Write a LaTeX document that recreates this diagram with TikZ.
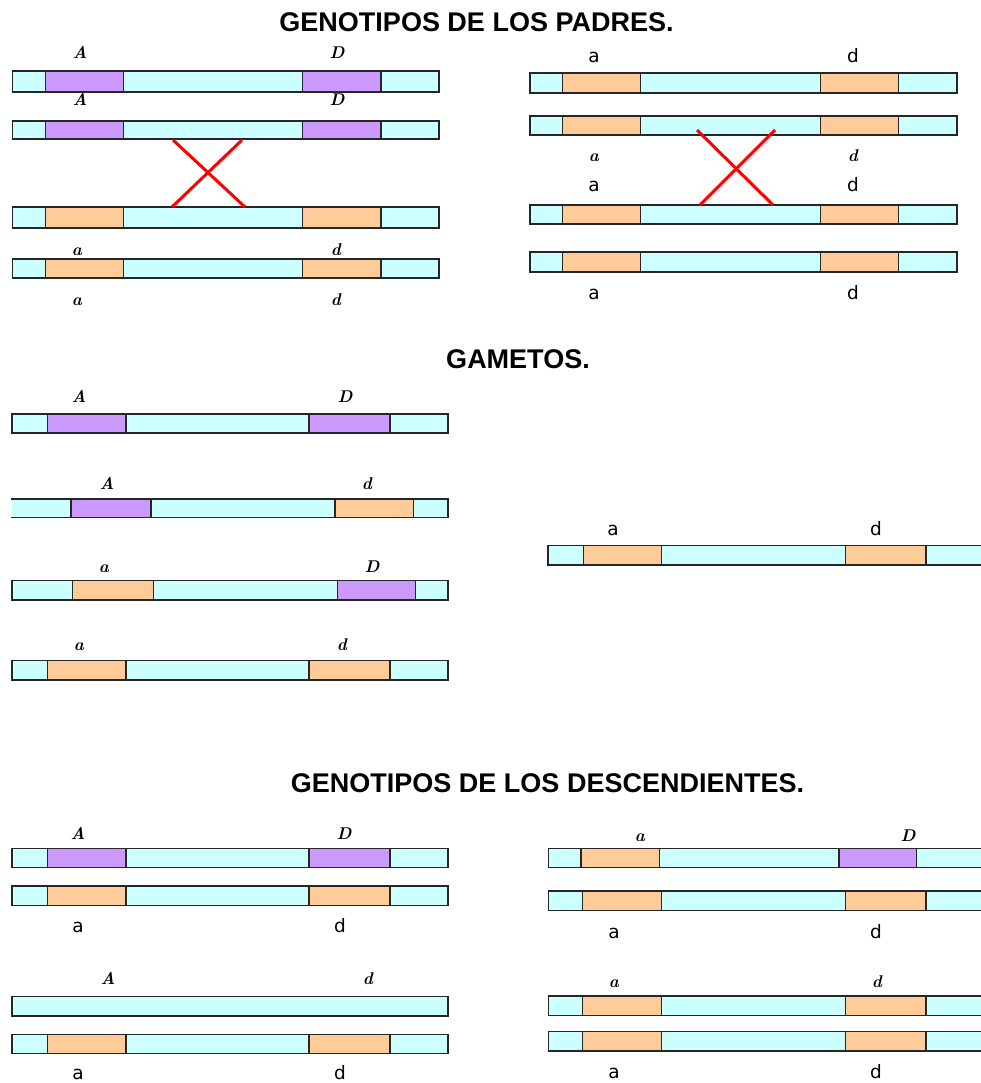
\documentclass[tikz,border=0pt]{standalone}
\usepackage{fontspec}
\newfontfamily\headfont{Liberation Sans}
\newfontfamily\plainfont{DejaVu Sans}
\definecolor{barfill}{HTML}{CCFFFF}
\definecolor{domfill}{HTML}{CC99FF}
\definecolor{recfill}{HTML}{FFCC99}
\definecolor{edge}{HTML}{262626}
\tikzset{
  chrbar/.style={draw=edge, line width=1.5pt, fill=barfill},
  dom/.style={draw=edge, line width=1.5pt, fill=domfill},
  rec/.style={draw=edge, line width=1.5pt, fill=recfill},
  heading/.style={inner sep=0pt, font=\headfont\bfseries\fontsize{27}{27}\selectfont},
  itl/.style={inner sep=0pt, anchor=base, font=\bfseries\itshape\fontsize{17}{17}\selectfont},
  pln/.style={inner sep=0pt, anchor=base, font=\plainfont\fontsize{18.5}{18.5}\selectfont},
  cross/.style={draw=red, line width=3pt}
}
% \chrom{left}{right}{top}{bottom}: plain chromosome bar
\newcommand{\chrom}[4]{\draw[chrbar] (#1,#3) rectangle (#2,#4);}
% \locus{style}{left}{right}{top}{bottom}: coloured gene segment
\newcommand{\locus}[5]{\draw[#1] (#2,#4) rectangle (#3,#5);}
% \chromo{left}{right}{top}{bottom}{s1}{e1}{s2}{e2}{style1}{style2}
\newcommand{\chromo}[9]{%
  \chrom{#1}{#2}{#3}{#4}%
  \locus{#9}{#5}{#6}{#3}{#4}%
  \def\chrLx{#7}\def\chrRx{#8}\def\chrTy{#3}\def\chrBy{#4}%
  \chrSecond}
\newcommand{\chrSecond}[1]{\locus{#1}{\chrLx}{\chrRx}{\chrTy}{\chrBy}}
\begin{document}
\begin{tikzpicture}[x=1pt,y=-1pt]
\useasboundingbox (0,0) rectangle (980,1083);
\fill[white] (0,0) rectangle (980,1083);

% ---------- headings ----------
\node[heading] (h1) at (476.5,22) {GENOTIPOS DE LOS PADRES.};
\node[heading] (h2) at (518,359) {GAMETOS.};
\node[heading] (h3) at (547.5,783) {GENOTIPOS DE LOS DESCENDIENTES.};

% ---------- parent 1 ----------
\chromo{12.3}{439}{71}{92}{45.7}{123.3}{302.7}{381}{dom}{dom}
\chromo{12.3}{439}{121}{139}{45.7}{123.3}{302.7}{381}{dom}{dom}
\chromo{12.3}{439}{207}{228}{45.7}{123.3}{302.7}{381}{rec}{rec}
\chromo{12.3}{439}{259}{278}{45.7}{123.3}{302.7}{381}{rec}{rec}
\coordinate (xa1) at (173,140); \coordinate (xa2) at (245,207);
\coordinate (xb1) at (242,140); \coordinate (xb2) at (172,207);
\draw[cross] (xa1) -- (xa2);
\draw[cross] (xb1) -- (xb2);

\node[itl] (p1A1) at (80,59) {A};
\node[itl] (p1D1) at (337,59) {D};
\node[itl] (p1A2) at (80,106) {A};
\node[itl] (p1D2) at (337,106) {D};
\node[itl] (p1a3) at (77,255) {a};
\node[itl] (p1d3) at (336,255) {d};
\node[itl] (p1a4) at (77,305) {a};
\node[itl] (p1d4) at (336,305) {d};

% ---------- parent 2 ----------
\chromo{530}{957}{73}{93}{562.3}{640.7}{820.7}{898.3}{rec}{rec}
\chromo{530}{957}{116}{135}{562.3}{640.7}{820.7}{898.3}{rec}{rec}
\chromo{530}{957}{205}{224}{562.3}{640.7}{820.7}{898.3}{rec}{rec}
\chromo{530}{957}{252}{272}{562.3}{640.7}{820.7}{898.3}{rec}{rec}
\coordinate (ya1) at (697,130); \coordinate (ya2) at (773,205);
\coordinate (yb1) at (775,130); \coordinate (yb2) at (700,205);
\draw[cross] (ya1) -- (ya2);
\draw[cross] (yb1) -- (yb2);

\node[pln] (p2a1) at (594,63) {a};
\node[pln] (p2d1) at (853,63) {d};
\node[itl] (p2a2) at (594,162) {a};
\node[itl] (p2d2) at (853,162) {d};
\node[pln] (p2a3) at (594,192) {a};
\node[pln] (p2d3) at (853,192) {d};
\node[pln] (p2a4) at (594,299) {a};
\node[pln] (p2d4) at (853,299) {d};

% ---------- gametes ----------
\chromo{12}{448}{414}{433}{47.7}{126}{309}{390}{dom}{dom}
% second gamete: open at its left end
\fill[barfill] (12,499) rectangle (448,517.7);
\draw[edge, line width=1.5pt] (11,499) -- (448,499) -- (448,517.7) -- (11,517.7);
\locus{dom}{71}{151}{499}{517.7}
\locus{rec}{335}{413.3}{499}{517.7}
\chromo{12}{448}{580.7}{600}{72.7}{153.7}{337.3}{415.7}{rec}{dom}
\chromo{12}{448}{660.7}{680}{47.7}{126}{309}{390}{rec}{rec}

\node[itl] (gA1) at (79,402) {A};
\node[itl] (gD1) at (345,402) {D};
\node[itl] (gA2) at (107,489) {A};
\node[itl] (gd2) at (367,489) {d};
\node[itl] (ga3) at (104,572) {a};
\node[itl] (gD3) at (372,572) {D};
\node[itl] (ga4) at (79,650) {a};
\node[itl] (gd4) at (342,650) {d};

\chromo{548}{992}{545.7}{565}{583.3}{661.7}{845.7}{926}{rec}{rec}
\node[pln] (gra) at (613,535) {a};
\node[pln] (grd) at (876,535) {d};

% ---------- offspring, left ----------
\chromo{12}{448}{848.3}{867.7}{47.7}{126}{309}{390}{dom}{dom}
\chromo{12}{448}{886}{905.3}{47.7}{126}{309}{390}{rec}{rec}
\chrom{12}{448}{996.7}{1016}
\chromo{12}{448}{1034.3}{1053.3}{47.7}{126}{309}{390}{rec}{rec}

\node[itl] (oA1) at (78,839) {A};
\node[itl] (oD1) at (344,839) {D};
\node[pln] (oa1) at (78,932) {a};
\node[pln] (od1) at (340,932) {d};
\node[itl] (oA2) at (108,984) {A};
\node[itl] (od2) at (368,984) {d};
\node[pln] (oa2) at (78,1079) {a};
\node[pln] (od2b) at (340,1079) {d};

% ---------- offspring, right ----------
\chromo{548.3}{992}{848.3}{867.7}{581}{659.3}{839}{916.7}{rec}{dom}
\chromo{548.3}{992}{891}{910.7}{582.7}{661.7}{845.7}{926}{rec}{rec}
\chromo{548.3}{992}{996}{1015.7}{582.7}{661.7}{845.7}{926}{rec}{rec}
\chromo{548.3}{992}{1031.7}{1051}{582.7}{661.7}{845.7}{926}{rec}{rec}

\node[itl] (ra1) at (640,841) {a};
\node[itl] (rD1) at (908,841) {D};
\node[pln] (ra2) at (614,938) {a};
\node[pln] (rd2) at (876,938) {d};
\node[itl] (ra3) at (614,987) {a};
\node[itl] (rd3) at (877,987) {d};
\node[pln] (ra4) at (614,1078) {a};
\node[pln] (rd4) at (876,1078) {d};
\end{tikzpicture}
\end{document}
